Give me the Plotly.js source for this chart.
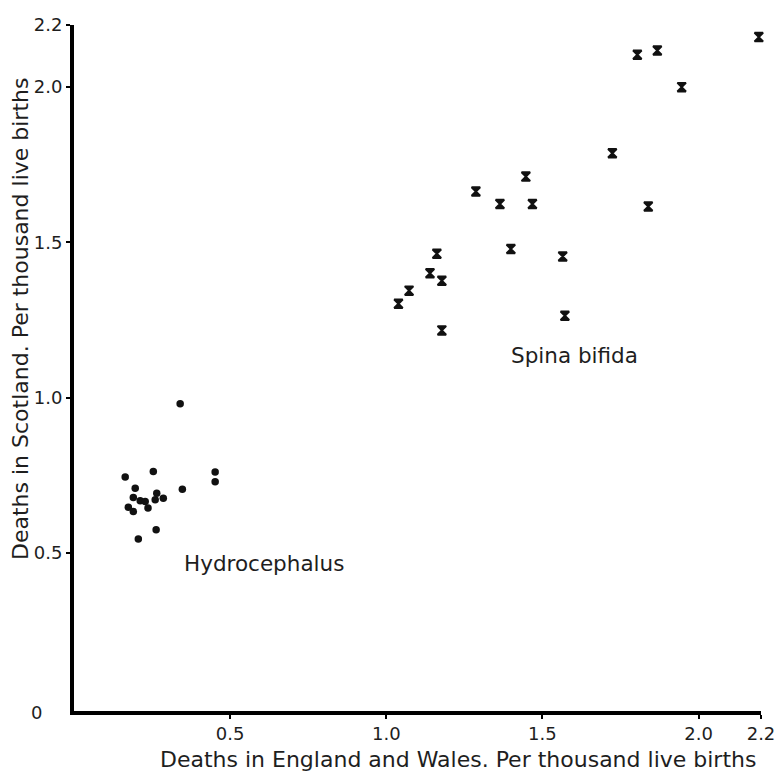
<!DOCTYPE html>
<html>
<head>
<meta charset="utf-8">
<script src="https://cdn.plot.ly/plotly-3.0.1.min.js"></script>
<style>
  html, body { margin: 0; padding: 0; background: #fff; }
  #chart { width: 779px; height: 774px; }
</style>
</head>
<body>
<div id="chart"></div>
<script>
// Hydrocephalus: deaths per thousand live births
const hydroEW = [0.340, 0.164, 0.254, 0.452, 0.452, 0.196, 0.347, 0.265, 0.190, 0.212, 0.228, 0.260, 0.286, 0.174, 0.190, 0.237, 0.263, 0.206];
const hydroSc = [0.981, 0.745, 0.763, 0.761, 0.730, 0.709, 0.706, 0.693, 0.679, 0.669, 0.666, 0.672, 0.677, 0.648, 0.634, 0.645, 0.575, 0.546];

// Spina bifida: deaths per thousand live births
const spinaEW = [2.193, 1.804, 1.868, 1.946, 1.724, 1.839, 1.447, 1.287, 1.364, 1.468, 1.399, 1.162, 1.565, 1.140, 1.178, 1.073, 1.039, 1.572, 1.178];
const spinaSc = [2.161, 2.104, 2.118, 2.000, 1.787, 1.616, 1.712, 1.664, 1.624, 1.624, 1.479, 1.464, 1.455, 1.401, 1.377, 1.345, 1.303, 1.264, 1.217];

const xTickVals = [0.5, 1.0, 1.5, 2.0, 2.2];
const xTickText = ["0.5", "1.0", "1.5", "2.0", "2.2"];
const yTickVals = [0.5, 1.0, 1.5, 2.0, 2.2];
const yTickText = ["0.5", "1.0", "1.5", "2.0", "2.2"];

const groupLabels = ["Hydrocephalus", "Spina bifida"];
const xTitle = "Deaths in England and Wales. Per thousand live births";
const yTitle = "Deaths in Scotland. Per thousand live births";

const FONT = "DejaVu Sans, Arial, sans-serif";
const INK = "#1e1e1e";

const traces = [
  {
    type: "scatter", mode: "markers", name: groupLabels[0],
    x: hydroEW, y: hydroSc, cliponaxis: false,
    marker: { symbol: "circle", size: 7.5, color: "#111" }
  },
  {
    type: "scatter", mode: "markers", name: groupLabels[1],
    x: spinaEW, y: spinaSc, cliponaxis: false,
    marker: { symbol: "hourglass", size: 8.5, color: "#111",
              line: { width: 2, color: "#111" } }
  }
];

const layout = {
  width: 779, height: 774,
  margin: { l: 74, r: 18, t: 25, b: 63 },
  paper_bgcolor: "#fff", plot_bgcolor: "#fff",
  showlegend: false,
  font: { family: FONT, color: INK, size: 18 },
  xaxis: {
    range: [0, 2.2], showgrid: false, zeroline: false,
    showline: true, linecolor: "#000", linewidth: 3.5,
    ticks: "outside", ticklen: 4, tickwidth: 2, tickcolor: "#000",
    tickvals: xTickVals, ticktext: xTickText,
    tickfont: { family: FONT, size: 18, color: INK }
  },
  yaxis: {
    range: [-0.008, 2.2], showgrid: false, zeroline: false,
    showline: true, linecolor: "#000", linewidth: 4,
    ticks: "outside", ticklen: 4, tickwidth: 2, tickcolor: "#000",
    tickvals: yTickVals, ticktext: yTickText,
    tickfont: { family: FONT, size: 18, color: INK }
  },
  annotations: [
    { text: xTitle, xref: "paper", yref: "paper", x: 0.559, y: -0.070,
      xanchor: "center", yanchor: "middle", showarrow: false,
      font: { family: FONT, size: 22, color: INK } },
    { text: yTitle, xref: "paper", yref: "paper", x: -0.078, y: 0.572,
      xanchor: "center", yanchor: "middle", showarrow: false, textangle: -90,
      font: { family: FONT, size: 22, color: INK } },
    { text: "0", xref: "paper", yref: "paper", x: -0.054, y: -0.0015,
      xanchor: "center", yanchor: "middle", showarrow: false,
      font: { family: FONT, size: 18, color: INK } },
    { text: groupLabels[0], xref: "x", yref: "y", x: 0.609, y: 0.466,
      xanchor: "center", yanchor: "middle", showarrow: false,
      font: { family: FONT, size: 21.5, color: INK } },
    { text: groupLabels[1], xref: "x", yref: "y", x: 1.604, y: 1.135,
      xanchor: "center", yanchor: "middle", showarrow: false,
      font: { family: FONT, size: 21.5, color: INK } }
  ]
};

Plotly.newPlot("chart", traces, layout, { displayModeBar: false, staticPlot: true });
</script>
</body>
</html>
